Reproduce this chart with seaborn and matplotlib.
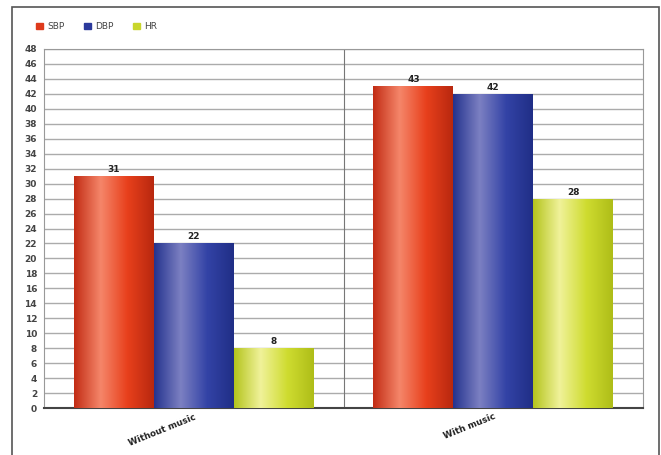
import numpy as np
import pandas as pd
import matplotlib
matplotlib.use("Agg")
import matplotlib.pyplot as plt
import seaborn as sns
from matplotlib.colors import LinearSegmentedColormap
from matplotlib.patches import Rectangle

groups = ["Without music", "With music"]
series = ["SBP", "DBP", "HR"]
sbp = [31, 43]
dbp = [22, 42]
hr = [8, 28]
yticks = list(range(0, 49, 2))

colors = {"SBP": "#de3a1c", "DBP": "#2b3a9c", "HR": "#c9d62c"}
grad = {
    "SBP": ["#c22c14", "#f5866a", "#e8401c", "#b8280f"],
    "DBP": ["#24338e", "#7c80c2", "#3343a6", "#202e86"],
    "HR":  ["#b4c41c", "#f0f29a", "#cfdc30", "#aebd18"],
}

df = pd.DataFrame({
    "group": groups * 3,
    "series": [s for s in series for _ in groups],
    "value": sbp + dbp + hr,
})

sns.set_style("white")
fig = plt.figure(figsize=(6.61, 4.55), dpi=100)
ax = fig.add_axes([44/661, 1-408/455, (643-44)/661, (408-49)/455])

sns.barplot(data=df, x="group", y="value", hue="series", order=groups,
            hue_order=series, palette=colors, width=0.8, ax=ax,
            legend=False, saturation=1, edgecolor="none", zorder=3)

# gradient fill clipped to each bar
for cont, s in zip(ax.containers, series):
    cmap = LinearSegmentedColormap.from_list(s, grad[s])
    g = np.linspace(0, 1, 256).reshape(1, -1)
    for bar in cont:
        x0, y0 = bar.get_x(), bar.get_y()
        w, h = bar.get_width(), bar.get_height()
        im = ax.imshow(g, cmap=cmap, aspect="auto",
                       extent=[x0, x0 + w, y0, y0 + h], zorder=4)
        im.set_clip_path(bar)
    ax.bar_label(cont, fmt="%d", padding=1.5, fontsize=6.5,
                 fontweight="bold", color="#222222", zorder=6)

ax.set_xlim(-0.5, 1.5)
ax.set_ylim(0, 48)
ax.set_yticks(yticks)
ax.set_yticklabels([str(t) for t in yticks], fontsize=6.5,
                   fontweight="bold", color="#444444")
for t in yticks[1:]:
    ax.axhline(t, color="#ababab", lw=1.0, zorder=1)
ax.axvline(0.5, color="#777777", lw=0.8, zorder=1)
ax.tick_params(axis="y", length=3, width=0.8, color="#777777", pad=2)
ax.tick_params(axis="x", length=0, pad=3)
ax.set_xticks([0, 1])
ax.set_xticklabels(groups, rotation=22, fontsize=6.3, fontweight="bold",
                   color="#222222", ha="right", rotation_mode="anchor")
ax.set_xlabel("")
ax.set_ylabel("")
for side in ["top", "right", "left"]:
    ax.spines[side].set_color("#999999")
    ax.spines[side].set_linewidth(0.8)
ax.spines["bottom"].set_color("#444444")
ax.spines["bottom"].set_linewidth(1.5)

# legend
handles = [Rectangle((0, 0), 1, 1, color=colors[s]) for s in series]
fig.legend(handles, series, loc="upper left", bbox_to_anchor=(28/661, 1-14/455),
           ncol=3, frameon=False, fontsize=6.5, handlelength=0.8,
           handleheight=0.8, columnspacing=2.2, handletextpad=0.4,
           labelcolor="#444444")

# outer frame
fig.patches.append(Rectangle((12/661, -0.05), (659-12)/661, 1.05 - 7/455,
                             transform=fig.transFigure, fill=False,
                             edgecolor="#555555", lw=1.2))

fig.savefig("out.png", dpi=100)
